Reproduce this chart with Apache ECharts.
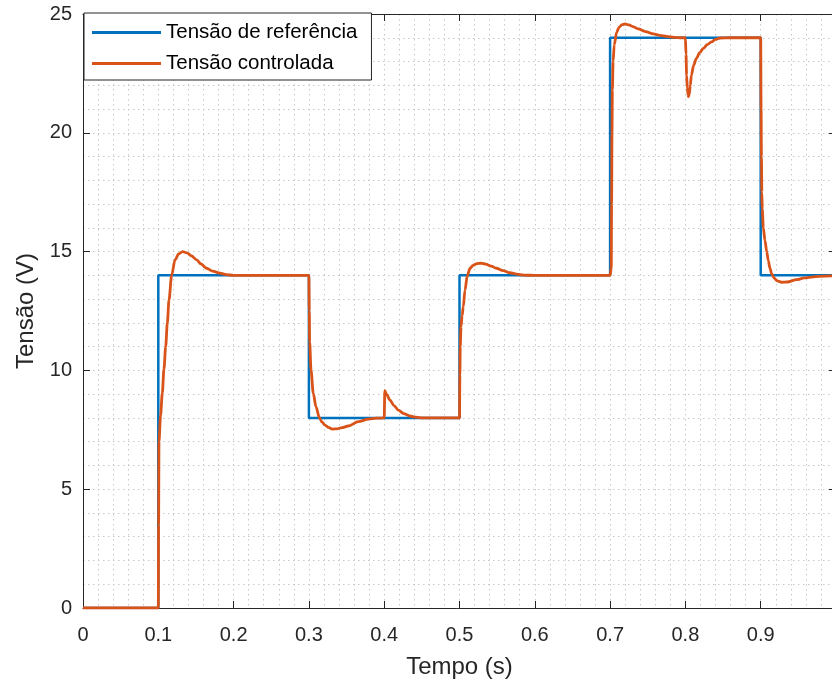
<!DOCTYPE html>
<html>
<head>
<meta charset="utf-8">
<script src="https://cdn.jsdelivr.net/npm/echarts@6/dist/echarts.min.js"></script>
<style>
  html, body { margin: 0; padding: 0; background: #fff; }
  #chart { width: 832px; height: 687px; }
</style>
</head>
<body>
<div id="chart"></div>
<script>
// reference (step) signal: level held from each time until the next one
const stepTimes = [0, 0.1, 0.3, 0.5, 0.7, 0.9, 1.0];
const stepLevels = [0, 14, 8, 14, 24, 14, 14];

// controlled voltage
const ctrlTimes = [
  0, 0.1, 0.1004, 0.1009, 0.103, 0.1053, 0.1075, 0.1098, 0.112, 0.1142, 0.1177, 0.1222, 0.127, 0.1322, 0.138, 0.144, 0.151, 0.157, 0.164, 0.172, 0.182, 0.19, 0.2, 0.3,
  0.3005, 0.301, 0.3028, 0.3058, 0.3094, 0.3139, 0.3175, 0.3214, 0.326, 0.331, 0.337, 0.344, 0.3523, 0.3656, 0.379, 0.39, 0.4,
  0.4008, 0.403, 0.4077, 0.413, 0.4187, 0.426, 0.434, 0.442, 0.4515, 0.5,
  0.5005, 0.501, 0.502, 0.5035, 0.505, 0.5073, 0.5104, 0.514, 0.518, 0.523, 0.5286, 0.535, 0.542, 0.549, 0.558, 0.567, 0.576, 0.585, 0.6, 0.7,
  0.7015, 0.702, 0.7025, 0.703, 0.704, 0.7055, 0.7086, 0.712, 0.716, 0.7198, 0.725, 0.731, 0.7375, 0.747, 0.7574, 0.766, 0.775, 0.785, 0.795, 0.8,
  0.8008, 0.8016, 0.8025, 0.8035, 0.804, 0.805, 0.8065, 0.808, 0.811, 0.8146, 0.819, 0.8237, 0.829, 0.8347, 0.84, 0.846, 0.86, 0.9,
  0.9005, 0.901, 0.9015, 0.902, 0.9035, 0.9057, 0.908, 0.9101, 0.9123, 0.9146, 0.918, 0.922, 0.9279, 0.935, 0.9477, 0.958, 0.97, 0.985, 1.0
];
const ctrlValues = [
  0, 0, 3.5, 7.0, 8.1, 9.04, 10.05, 11.0, 12.0, 12.96, 14.0, 14.65, 14.9, 15.0, 14.95, 14.82, 14.65, 14.47, 14.3, 14.18, 14.09, 14.03, 14.0, 14.0,
  12.5, 11.2, 10.02, 9.04, 8.47, 8.01, 7.82, 7.7, 7.6, 7.53, 7.54, 7.59, 7.66, 7.84, 7.95, 7.99, 8.0,
  9.15, 9.0, 8.75, 8.52, 8.33, 8.18, 8.08, 8.03, 8.0, 8.0,
  9.8, 11.0, 11.84, 12.3, 12.68, 13.38, 14.0, 14.3, 14.42, 14.49, 14.51, 14.47, 14.39, 14.3, 14.2, 14.11, 14.05, 14.01, 14.0, 14.0,
  14.3, 17, 20, 21.8, 23.0, 23.7, 24.23, 24.45, 24.55, 24.58, 24.54, 24.46, 24.37, 24.26, 24.16, 24.1, 24.06, 24.02, 24.0, 24.0,
  23.3, 22.43, 21.9, 21.6, 21.52, 21.6, 22.0, 22.43, 22.85, 23.13, 23.37, 23.55, 23.71, 23.83, 23.93, 23.99, 24.0, 24.0,
  21, 19, 17.5, 16.8, 16.0, 15.46, 15.0, 14.62, 14.3, 14.06, 13.88, 13.77, 13.71, 13.72, 13.82, 13.89, 13.94, 13.97, 13.98
];

const xTickLabels = ['0', '0.1', '0.2', '0.3', '0.4', '0.5', '0.6', '0.7', '0.8', '0.9', '1'];

const refData = [];
for (let i = 0; i < stepTimes.length - 1; i++) {
  refData.push([stepTimes[i], stepLevels[i]]);
  refData.push([stepTimes[i + 1], stepLevels[i]]);
}
const ctrlData = ctrlTimes.map((t, i) => [t, ctrlValues[i]]);

const font = 'Arial, "Liberation Sans", Helvetica, sans-serif';
const axisColor = '#262626';
const gridDot = { color: '#c8c8c8', width: 1, type: [1.5, 3.5] };

const boxAxis = {
  axisLine: { show: true, onZero: false, lineStyle: { color: axisColor, width: 1 } },
  axisTick: { show: true, inside: true, length: 7, lineStyle: { color: axisColor } },
  axisLabel: { show: false },
  splitLine: { show: false }
};

const chart = echarts.init(document.getElementById('chart'), null, { renderer: 'canvas' });
chart.setOption({
  animation: false,
  backgroundColor: '#fff',
  textStyle: { fontFamily: font },
  grid: { left: 83, top: 14, right: -4, bottom: 79, containLabel: false, outerBoundsMode: 'none' },
  legend: {
    left: 84,
    top: 13,
    orient: 'vertical',
    padding: [9, 14, 6, 8],
    itemGap: 10,
    itemWidth: 69,
    itemHeight: 3,
    icon: 'rect',
    backgroundColor: '#fff',
    borderColor: axisColor,
    borderWidth: 1,
    borderRadius: 0,
    textStyle: { fontSize: 20.5, color: '#000', lineHeight: 20, fontFamily: font },
    data: ['Tensão de referência', 'Tensão controlada']
  },
  xAxis: [{
    type: 'value',
    min: 0,
    max: 1,
    interval: 0.1,
    name: 'Tempo (s)',
    nameLocation: 'middle',
    nameGap: 47,
    nameTextStyle: { fontSize: 24, color: axisColor, fontFamily: font },
    axisLine: { show: true, onZero: false, lineStyle: { color: axisColor, width: 1 } },
    axisTick: { show: true, inside: true, length: 7, lineStyle: { color: axisColor } },
    axisLabel: {
      fontSize: 20, color: axisColor, margin: 17,
      showMinLabel: true, showMaxLabel: true, hideOverlap: false,
      formatter: (v) => xTickLabels[Math.round(v * 10)]
    },
    splitLine: { show: true, lineStyle: gridDot },
    minorTick: { show: false, splitNumber: 5 },
    minorSplitLine: { show: true, lineStyle: gridDot }
  }, Object.assign({ type: 'value', position: 'top', min: 0, max: 1, interval: 0.1 }, boxAxis)],
  yAxis: [{
    type: 'value',
    min: 0,
    max: 25,
    interval: 5,
    name: 'Tensão (V)',
    nameLocation: 'middle',
    nameGap: 44,
    nameTextStyle: { fontSize: 24, color: axisColor, fontFamily: font },
    axisLine: { show: true, onZero: false, lineStyle: { color: axisColor, width: 1 } },
    axisTick: { show: true, inside: true, length: 7, lineStyle: { color: axisColor } },
    axisLabel: { fontSize: 20, color: axisColor, margin: 11 },
    splitLine: { show: true, lineStyle: gridDot },
    minorTick: { show: false, splitNumber: 5 },
    minorSplitLine: { show: true, lineStyle: gridDot }
  }, Object.assign({ type: 'value', position: 'right', min: 0, max: 25, interval: 5 }, boxAxis)],
  series: [{
    name: 'Tensão de referência',
    type: 'line',
    data: refData,
    showSymbol: false,
    color: '#0072BD',
    lineStyle: { width: 2.5, color: '#0072BD' },
    z: 2
  }, {
    name: 'Tensão controlada',
    type: 'line',
    data: ctrlData,
    showSymbol: false,
    smooth: 0.3,
    smoothMonotone: 'x',
    color: '#D95319',
    lineStyle: { width: 2.8, color: '#D95319' },
    z: 3
  }]
});
</script>
</body>
</html>
